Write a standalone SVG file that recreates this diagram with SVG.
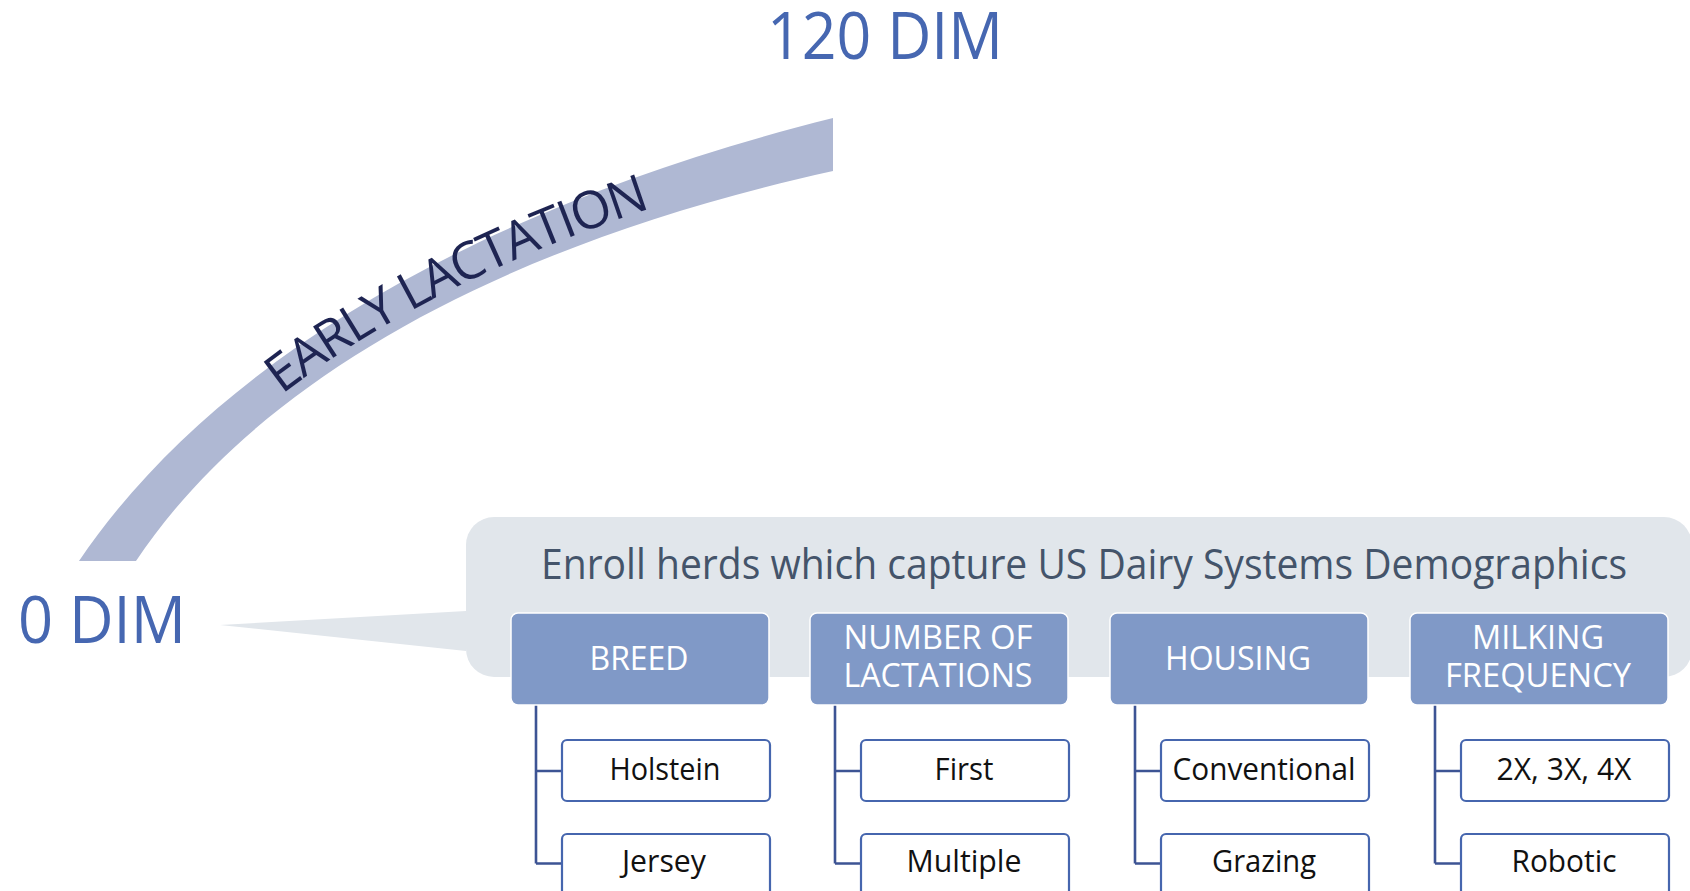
<svg xmlns="http://www.w3.org/2000/svg" xmlns:xlink="http://www.w3.org/1999/xlink" width="1690" height="891" viewBox="0 0 1690 891">
  <style>
    .dim { font-family: "Open Sans", "Liberation Sans", sans-serif; font-size: 66px; fill: #4667B1; }
    .band { fill: #AFB8D3; }
    .bandText { font-family: "Open Sans", "Liberation Sans", sans-serif; font-size: 52px; fill: #1E2452; }
    .callout { fill: #E1E6EB; }
    .heading { font-family: "Open Sans", "Liberation Sans", sans-serif; font-size: 42px; fill: #44546A; }
    .hdr { fill: #8099C7; stroke: #FFFFFF; stroke-width: 1.5; }
    .hdrText { font-family: "Open Sans", "Liberation Sans", sans-serif; font-size: 33.5px; fill: #FFFFFF; text-anchor: middle; }
    .item { fill: #FFFFFF; stroke: #4666AE; stroke-width: 2.2; }
    .itemText { font-family: "Open Sans", "Liberation Sans", sans-serif; font-size: 31px; fill: #111111; text-anchor: middle; }
    .link { fill: none; stroke: #3D5494; stroke-width: 2.6; }
  </style>
  <defs>
    <path id="bandBaseline" d="M 121.75,561 C 245.6,376 494.5,234.4 833,158"/>
  </defs>

  <!-- timeline labels and early-lactation band -->
  <g id="timeline">
    <text class="dim" x="767" y="59" textLength="236" lengthAdjust="spacingAndGlyphs">120 DIM</text>
    <path class="band" d="M 79,561 C 213.5,362 477.5,207 833,118 L 833,171 C 500.2,244.2 256.3,380.7 136,561 Z"/>
    <text class="bandText" text-anchor="middle" letter-spacing="-1.8"><textPath xlink:href="#bandBaseline" href="#bandBaseline" startOffset="52.5%">EARLY LACTATION</textPath></text>
    <text class="dim" x="18" y="643" textLength="168" lengthAdjust="spacingAndGlyphs">0 DIM</text>
  </g>

  <!-- speech-bubble panel pointing at 0 DIM -->
  <g id="enroll-panel">
    <path class="callout" d="M 466,611 L 220,625 L 466,651 Z"/>
    <rect class="callout" x="466" y="517" width="1226" height="160" rx="28" ry="28"/>
    <text class="heading" x="541" y="579" textLength="1086" lengthAdjust="spacingAndGlyphs">Enroll herds which capture US Dairy Systems Demographics</text>
  </g>

  <!-- tree connectors -->
  <g id="connectors">
    <path class="link" d="M 536,705 V 863.5 M 536,771 H 562 M 536,863.5 H 562"/>
    <path class="link" d="M 835,705 V 863.5 M 835,771 H 861 M 835,863.5 H 861"/>
    <path class="link" d="M 1135,705 V 863.5 M 1135,771 H 1161 M 1135,863.5 H 1161"/>
    <path class="link" d="M 1435,705 V 863.5 M 1435,771 H 1461 M 1435,863.5 H 1461"/>
  </g>

  <!-- category headers -->
  <g id="breed">
    <rect class="hdr" x="511" y="613" width="258" height="92" rx="7"/>
    <text class="hdrText" x="639" y="670" textLength="99" lengthAdjust="spacingAndGlyphs">BREED</text>
  </g>
  <g id="lactations">
    <rect class="hdr" x="810" y="613" width="258" height="92" rx="7"/>
    <text class="hdrText" x="938" y="649" textLength="189" lengthAdjust="spacingAndGlyphs">NUMBER OF</text>
    <text class="hdrText" x="938" y="687" textLength="189" lengthAdjust="spacingAndGlyphs">LACTATIONS</text>
  </g>
  <g id="housing">
    <rect class="hdr" x="1110" y="613" width="258" height="92" rx="7"/>
    <text class="hdrText" x="1238" y="670" textLength="146" lengthAdjust="spacingAndGlyphs">HOUSING</text>
  </g>
  <g id="milking">
    <rect class="hdr" x="1410" y="613" width="258" height="92" rx="7"/>
    <text class="hdrText" x="1538" y="649" textLength="132" lengthAdjust="spacingAndGlyphs">MILKING</text>
    <text class="hdrText" x="1538" y="687" textLength="186" lengthAdjust="spacingAndGlyphs">FREQUENCY</text>
  </g>

  <!-- category values -->
  <g id="holstein">
    <rect class="item" x="562" y="740" width="208" height="61" rx="5"/>
    <text class="itemText" x="665" y="780" textLength="111" lengthAdjust="spacingAndGlyphs">Holstein</text>
  </g>
  <g id="jersey">
    <rect class="item" x="562" y="834" width="208" height="66" rx="5"/>
    <text class="itemText" x="664" y="872" textLength="84" lengthAdjust="spacingAndGlyphs">Jersey</text>
  </g>
  <g id="first">
    <rect class="item" x="861" y="740" width="208" height="61" rx="5"/>
    <text class="itemText" x="964" y="780" textLength="59" lengthAdjust="spacingAndGlyphs">First</text>
  </g>
  <g id="multiple">
    <rect class="item" x="861" y="834" width="208" height="66" rx="5"/>
    <text class="itemText" x="964" y="872" textLength="115" lengthAdjust="spacingAndGlyphs">Multiple</text>
  </g>
  <g id="conventional">
    <rect class="item" x="1161" y="740" width="208" height="61" rx="5"/>
    <text class="itemText" x="1264" y="780" textLength="183" lengthAdjust="spacingAndGlyphs">Conventional</text>
  </g>
  <g id="grazing">
    <rect class="item" x="1161" y="834" width="208" height="66" rx="5"/>
    <text class="itemText" x="1264" y="872" textLength="104" lengthAdjust="spacingAndGlyphs">Grazing</text>
  </g>
  <g id="times-daily">
    <rect class="item" x="1461" y="740" width="208" height="61" rx="5"/>
    <text class="itemText" x="1564" y="780" textLength="135" lengthAdjust="spacingAndGlyphs">2X, 3X, 4X</text>
  </g>
  <g id="robotic">
    <rect class="item" x="1461" y="834" width="208" height="66" rx="5"/>
    <text class="itemText" x="1564" y="872" textLength="105" lengthAdjust="spacingAndGlyphs">Robotic</text>
  </g>
</svg>
